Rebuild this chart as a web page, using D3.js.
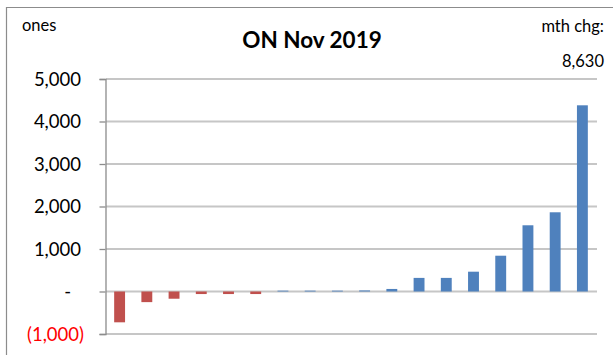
<!DOCTYPE html>
<html>
<head>
<meta charset="utf-8">
<script src="https://cdn.jsdelivr.net/npm/d3@7"></script>
<style>
    body { margin: 0; background: #fff; }
    text { font-family: Lato, "Open Sans", sans-serif; }
</style>
</head>
<body>
<svg id="chart"></svg>
<script>
// categories are not labelled in the picture, so they are just numbered
const categories = d3.range(1, 19).map(function(i) { return 'c' + i; });
const values = [-725, -250, -170, -60, -60, -60, 20, 20, 20, 25, 60, 320, 320, 466, 842, 1558, 1864, 4381];
const tickValues = [-1000, 0, 1000, 2000, 3000, 4000, 5000];
const title = 'ON Nov 2019';
const unitLabel = 'ones';
const changeLabel = 'mth chg:';
const changeValue = '8,630';

const width = 613;
const height = 355;
const margin = {top: 79, right: 17, bottom: 21, left: 106};

const chart = d3.select('#chart')
    .attr('width', width)
    .attr('height', height);

// frame (only top and left are in view)
chart.append('path')
    .attr('d', `M6.5,${height} V7.5 H${width}`)
    .attr('fill', 'none')
    .attr('stroke', '#8c8c8c')
    .attr('stroke-width', 1.2);

const x = d3.scaleBand()
    .domain(categories)
    .range([margin.left, width - margin.right])
    .paddingInner(0.6)
    .paddingOuter(0.3);

const y = d3.scaleLinear()
    .domain([-1000, 5000])
    .range([height - margin.bottom, margin.top]);

// gridlines
chart.append('g')
    .selectAll('line')
    .data(tickValues)
    .enter()
    .append('line')
    .attr('x1', margin.left)
    .attr('x2', width - margin.right + 1)
    .attr('y1', function(d) { return y(d); })
    .attr('y2', function(d) { return y(d); })
    .attr('stroke', '#c6c6c6')
    .attr('stroke-width', 1.8);

// left axis
const axis = chart.append('g')
    .attr('transform', `translate(${margin.left - 0.5}, 0)`)
    .call(d3.axisLeft(y)
        .tickValues(tickValues)
        .tickSize(6)
        .tickFormat(''));
axis.selectAll('path, line')
    .attr('stroke', '#8c8c8c')
    .attr('stroke-width', 1.3);

function tickText(d) {
    if (d === 0) return '-';
    if (d < 0) return '(' + d3.format(',')(-d) + ')';
    return d3.format(',')(d);
}

chart.append('g')
    .selectAll('text')
    .data(tickValues)
    .enter()
    .append('text')
    .attr('x', function(d) {
        if (d === 0) return 71;
        if (d < 0) return 84;
        return 81;
    })
    .attr('y', function(d) { return y(d); })
    .attr('dy', '.36em')
    .attr('text-anchor', 'end')
    .attr('font-size', 18.5)
    .attr('fill', function(d) { return d < 0 ? '#ff0000' : '#000'; })
    .text(tickText);

// bars
chart.append('g')
    .selectAll('rect')
    .data(values)
    .enter()
    .append('rect')
    .attr('x', function(d, i) { return x(categories[i]); })
    .attr('width', x.bandwidth())
    .attr('y', function(d) { return y(Math.max(0, d)); })
    .attr('height', function(d) { return Math.abs(y(d) - y(0)); })
    .attr('fill', function(d) { return d < 0 ? '#c0504d' : '#4f81bd'; });

// texts
chart.append('text')
    .attr('x', 312)
    .attr('y', 47.5)
    .attr('text-anchor', 'middle')
    .attr('font-size', 22.5)
    .attr('font-weight', 'bold')
    .text(title);

chart.append('text')
    .attr('x', 22)
    .attr('y', 31)
    .attr('font-size', 16.5)
    .text(unitLabel);

chart.append('text')
    .attr('x', 604)
    .attr('y', 31.5)
    .attr('text-anchor', 'end')
    .attr('font-size', 16.5)
    .text(changeLabel);

chart.append('text')
    .attr('x', 604)
    .attr('y', 66.5)
    .attr('text-anchor', 'end')
    .attr('font-size', 16.5)
    .text(changeValue);
</script>
</body>
</html>
